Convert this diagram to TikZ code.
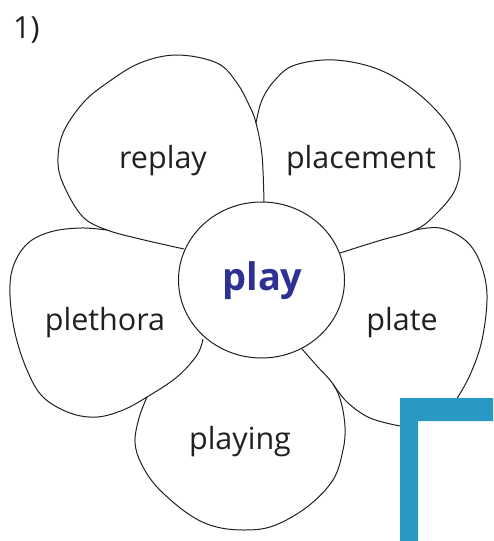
\documentclass[tikz,border=0pt]{standalone}
\usepackage{xcolor,fontspec,tikz}
\usetikzlibrary{shapes.geometric}
\setmainfont{Open Sans}
\definecolor{playblue}{HTML}{2E3192}
\definecolor{barblue}{HTML}{2899C4}
\definecolor{ink}{HTML}{231F20}

\begin{document}
\begin{tikzpicture}[x=1pt,y=-1pt,
		word/.style={anchor=base,inner sep=0pt,text=ink,font=\fontsize{30.5}{36}\selectfont},
		petal/.style={line width=1pt,line join=round,draw=ink}]
				\useasboundingbox (0,0) rectangle (493,541);

				\draw (13,38) node[word,anchor=base west] (num) {1)};

				% centre of the flower
				\draw (261.5,280) node[ellipse,draw=ink,line width=1pt,minimum width=166pt,minimum height=156pt,inner sep=0pt] (core) {};
				\draw (262.5,290) node[word,font=\fontsize{38}{44}\selectfont\bfseries,text=playblue] (play) {play};

				% petals
				\draw[petal] plot[smooth,tension=0.6] coordinates {(184,249) (140,239) (107,230) (83,217) (65,188) (58,163) (63,133) (83,103) (107,83) (140,63) (177,55) (217,63) (237,83) (250,107) (256,123) (262,155) (264,202)};
				\draw[petal] plot[smooth,tension=0.6] coordinates {(256,123) (262,100) (275,80) (295,65) (335,60) (380,70) (420,95) (450,128) (460,160) (455,190) (435,215) (415,230) (378,241) (340,253)};
				\draw[petal] plot[smooth,tension=0.6] coordinates {(415,230) (440,228) (465,240) (480,262) (487,295) (482,340) (470,375) (456,400)};
				\draw[petal] plot[smooth,tension=0.6] coordinates {(400,426) (370,418) (347,402) (333,384)};
				\draw[petal] plot[smooth,tension=0.6] coordinates {(147,397) (139,418) (135,442) (141,463) (157,487) (187,513) (213,526) (243,530) (273,526) (307,507) (333,480) (343,450) (345,427) (341,402) (333,384) (317,366) (302,349)};
				\draw[petal] plot[smooth,tension=0.6] coordinates {(107,230) (80,228) (50,232) (27,244) (13,267) (10,295) (15,333) (27,370) (43,397) (70,413) (97,417) (123,410) (147,397) (177,377) (197,355) (203,339)};

				% words on the petals
				\draw (163,168) node[word] (replay) {replay};
				\draw (361,168) node[word] (placement) {placement};
				\draw (105,330) node[word] (plethora) {plethora};
				\draw (402,330) node[word] (plate) {plate};
				\draw (240,449) node[word] (playing) {playing};

				% corner bar
				\fill[barblue] (400,541) -- (400,398) -- (493,398) -- (493,421) -- (418,421) -- (418,541) -- cycle;
			\end{tikzpicture}
\end{document}
